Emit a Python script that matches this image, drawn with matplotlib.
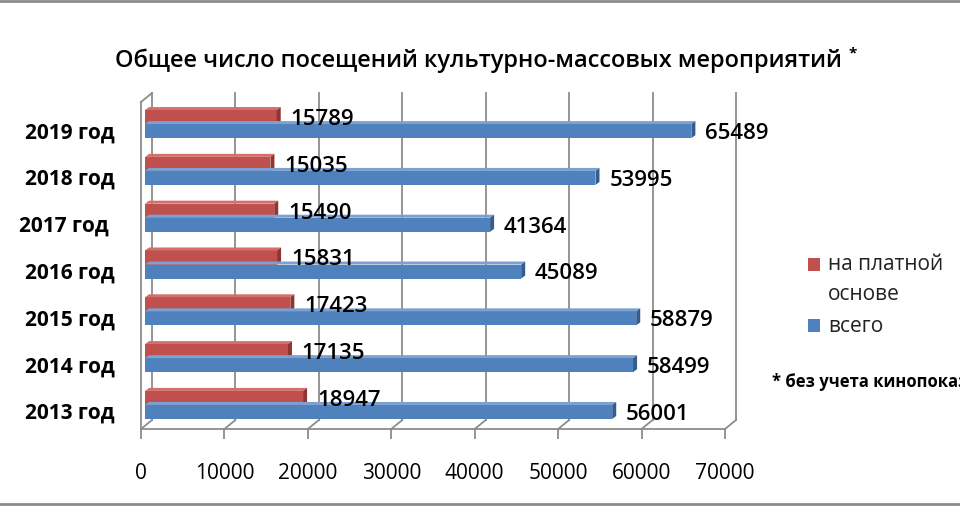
import matplotlib.pyplot as plt
from matplotlib.patches import Polygon, Rectangle
from matplotlib.transforms import ScaledTranslation
from matplotlib.lines import Line2D

plt.rcParams['font.family'] = ['Open Sans', 'DejaVu Sans']

# data
years = ['2013 год', '2014 год', '2015 год', '2016 год', '2017 год ', '2018 год', '2019 год']
paid = [18947, 17135, 17423, 15831, 15490, 15035, 15789]
total = [56001, 58499, 58879, 45089, 41364, 53995, 65489]
xticks = [0, 10000, 20000, 30000, 40000, 50000, 60000, 70000]

W, H = 960, 510
fig = plt.figure(figsize=(W / 100, H / 100), dpi=100)

# front plane of the pseudo-3d plot area
ax = fig.add_axes([141 / W, (H - 430) / H, 584 / W, 327 / H])
ax.set_xlim(0, 70000)
ax.set_ylim(-0.407, 6.579)
ux = 70000 / 584            # data units per pixel
uy = (6.579 + 0.407) / 327

grid_col = '#8c8c8c'
red, red_top, red_side = '#C0504D', '#D46F6C', '#8E3431'
blue, blue_top, blue_side = '#4F81BD', '#7AA1D2', '#345C8C'

# back wall grid lines and floor
back = ax.get_xaxis_transform() + ScaledTranslation(11 / 100, 9 / 100, fig.dpi_scale_trans)
y0, y1 = ax.get_ylim()
for v in xticks:
    ax.plot([v, v], [0, 1], transform=back, color=grid_col, lw=1.3, zorder=0.5, clip_on=False)
    ax.plot([v, v + 11 * ux], [y0, y0 + 9 * uy], color=grid_col, lw=1.3, zorder=0.5, clip_on=False)
ax.plot([0, 11 * ux], [y1, y1 + 9 * uy], color=grid_col, lw=1.3, zorder=0.5, clip_on=False)

# bars sit a bit deeper than the front plane
bar_tr = ax.transData + ScaledTranslation(4 / 100, 5 / 100, fig.dpi_scale_trans)
bh = 0.3
dx, dy = 4 * ux, 3 * uy


def bar3d(yb, v, front, top, side):
    r = Rectangle((0, yb), v, bh, fc=front, ec='none', zorder=2)
    r.set_transform(bar_tr)
    ax.add_patch(r)
    t = Polygon([(0, yb + bh), (v, yb + bh), (v + dx, yb + bh + dy), (dx, yb + bh + dy)],
                closed=True, fc=top, ec='none', zorder=2)
    t.set_transform(bar_tr)
    ax.add_patch(t)
    s = Polygon([(v, yb), (v + dx, yb + dy), (v + dx, yb + bh + dy), (v, yb + bh)],
                closed=True, fc=side, ec='none', zorder=2)
    s.set_transform(bar_tr)
    ax.add_patch(s)
    ax.annotate(f'{v}', (v, yb + bh / 2), xycoords=bar_tr, xytext=(10, -1),
                textcoords='offset points', ha='left', va='center',
                fontsize=16, fontweight='semibold', color='black', zorder=3)


for i in range(len(years)):
    bar3d(i, paid[i], red, red_top, red_side)
    bar3d(i - bh, total[i], blue, blue_top, blue_side)

ax.set_yticks(range(len(years)))
ax.set_yticklabels(years, fontsize=15, fontweight='bold')
ax.set_xticks(xticks)
ax.set_xticklabels([str(v) for v in xticks], fontsize=15)
ax.tick_params(axis='y', length=0, pad=19)
ax.tick_params(axis='x', length=7, width=1.3, color=grid_col, pad=17)
for side in ['top', 'right']:
    ax.spines[side].set_visible(False)
for side in ['left', 'bottom']:
    ax.spines[side].set_color(grid_col)
    ax.spines[side].set_linewidth(1.3)
ax.patch.set_visible(False)

# title
fig.text(478 / W, 1 - 61 / H, 'Общее число посещений культурно-массовых мероприятий',
         ha='center', va='center', fontsize=17, fontweight='semibold')
fig.text(849 / W, 1 - 53 / H, '*', ha='left', va='center', fontsize=11, fontweight='bold')

# legend
fig.patches.append(Rectangle((808 / W, 1 - 272 / H), 12 / W, 13 / H, fc=red, ec='none',
                             transform=fig.transFigure))
fig.patches.append(Rectangle((808 / W, 1 - 333 / H), 12 / W, 13 / H, fc=blue, ec='none',
                             transform=fig.transFigure))
fig.text(828 / W, 1 - 265 / H, 'на платной', ha='left', va='center', fontsize=15, color='#222222')
fig.text(828 / W, 1 - 295 / H, 'основе', ha='left', va='center', fontsize=15, color='#222222')
fig.text(828 / W, 1 - 327 / H, 'всего', ha='left', va='center', fontsize=15, color='#222222')

# footnote runs off the right edge in the original as well
fig.text(772 / W, 1 - 382 / H, '* без учета кинопоказов', ha='left', va='center',
         fontsize=12, fontweight='bold')

# chart frame lines
fig.add_artist(Line2D([0, 1], [1 - 2 / H, 1 - 2 / H], color='#8c8c8c', lw=2, transform=fig.transFigure))
fig.add_artist(Line2D([0, 1], [1 - 505 / H, 1 - 505 / H], color='#8c8c8c', lw=2, transform=fig.transFigure))

fig.savefig('out.png', dpi=100)
